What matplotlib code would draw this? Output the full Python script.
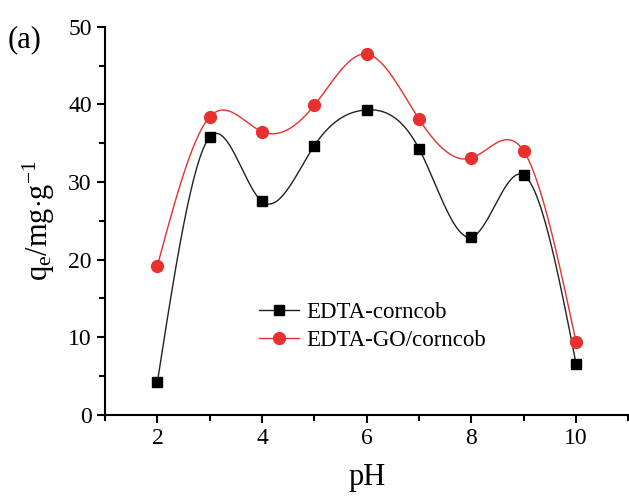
import matplotlib
matplotlib.use("Agg")
import matplotlib.pyplot as plt
import numpy as np
from matplotlib.ticker import MultipleLocator

plt.rcParams['font.family'] = ['Liberation Serif', 'DejaVu Serif']
plt.rcParams['mathtext.fontset'] = 'custom'
plt.rcParams['mathtext.rm'] = 'Liberation Serif'
plt.rcParams['mathtext.it'] = 'Liberation Serif:italic'

ph = [2, 3, 4, 5, 6, 7, 8, 9, 10]
qe_corncob = [4.2, 35.8, 27.5, 34.7, 39.3, 34.3, 22.9, 30.9, 6.6]
qe_go = [19.2, 38.4, 36.5, 39.9, 46.5, 38.1, 33.1, 34.0, 9.4]


def natural_spline(x, y, xs):
    # plain natural cubic spline, like Origin's "spline" connect
    x = np.asarray(x, float)
    y = np.asarray(y, float)
    n = len(x)
    h = np.diff(x)
    A = np.zeros((n, n))
    b = np.zeros(n)
    A[0, 0] = 1
    A[-1, -1] = 1
    for i in range(1, n - 1):
        A[i, i - 1] = h[i - 1]
        A[i, i] = 2 * (h[i - 1] + h[i])
        A[i, i + 1] = h[i]
        b[i] = 6 * ((y[i + 1] - y[i]) / h[i] - (y[i] - y[i - 1]) / h[i - 1])
    M = np.linalg.solve(A, b)
    idx = np.clip(np.searchsorted(x, xs) - 1, 0, n - 2)
    x0, x1 = x[idx], x[idx + 1]
    hh = x1 - x0
    t0 = x1 - xs
    t1 = xs - x0
    return (M[idx] * t0**3 / (6 * hh) + M[idx + 1] * t1**3 / (6 * hh)
            + (y[idx] / hh - M[idx] * hh / 6) * t0
            + (y[idx + 1] / hh - M[idx + 1] * hh / 6) * t1)


xs = np.linspace(ph[0], ph[-1], 400)

fig = plt.figure(figsize=(6.29, 4.98), dpi=100)
ax = fig.add_axes([0.167, 0.167, 0.832, 0.779])

red = '#e8302e'
ax.plot(xs, natural_spline(ph, qe_corncob, xs), color='#222222', lw=1.0)
ax.plot(xs, natural_spline(ph, qe_go, xs), color=red, lw=1.0)
ax.plot(ph, qe_corncob, ls='none', marker='s', ms=7.5, color='black')
ax.plot(ph, qe_go, ls='none', marker='o', ms=8.5, color=red)

# legend proxies (line + marker)
ax.plot([], [], color='#222222', lw=1.0, marker='s', ms=7.5, mfc='black', mec='black', label='EDTA-corncob')
ax.plot([], [], color=red, lw=1.0, marker='o', ms=8.5, mfc=red, mec=red, label='EDTA-GO/corncob')
ax.legend(loc='upper left', bbox_to_anchor=(0.255, 0.345), frameon=False, fontsize=16.5,
          handlelength=1.75, handletextpad=0.3, labelspacing=0.3)

ax.set_xlim(1, 11)
ax.set_ylim(0, 50)
ax.xaxis.set_major_locator(MultipleLocator(2))
ax.xaxis.set_minor_locator(MultipleLocator(1))
ax.yaxis.set_major_locator(MultipleLocator(10))
ax.yaxis.set_minor_locator(MultipleLocator(5))
ax.spines['top'].set_visible(False)
ax.spines['right'].set_visible(False)
for s in ['left', 'bottom']:
    ax.spines[s].set_linewidth(1.5)
ax.tick_params(which='major', direction='out', length=6, width=1.5, labelsize=17)
ax.tick_params(which='minor', direction='out', length=4, width=1.5)
ax.set_xticks([2, 4, 6, 8, 10])

ax.set_xlabel('pH', fontsize=22, labelpad=10)
ax.set_ylabel(r'q$_\mathrm{e}$/mg$\cdot$g$^{-1}$', fontsize=22, labelpad=8)

fig.text(0.012, 0.905, '(a)', fontsize=22)

fig.savefig('out.png', dpi=100)
